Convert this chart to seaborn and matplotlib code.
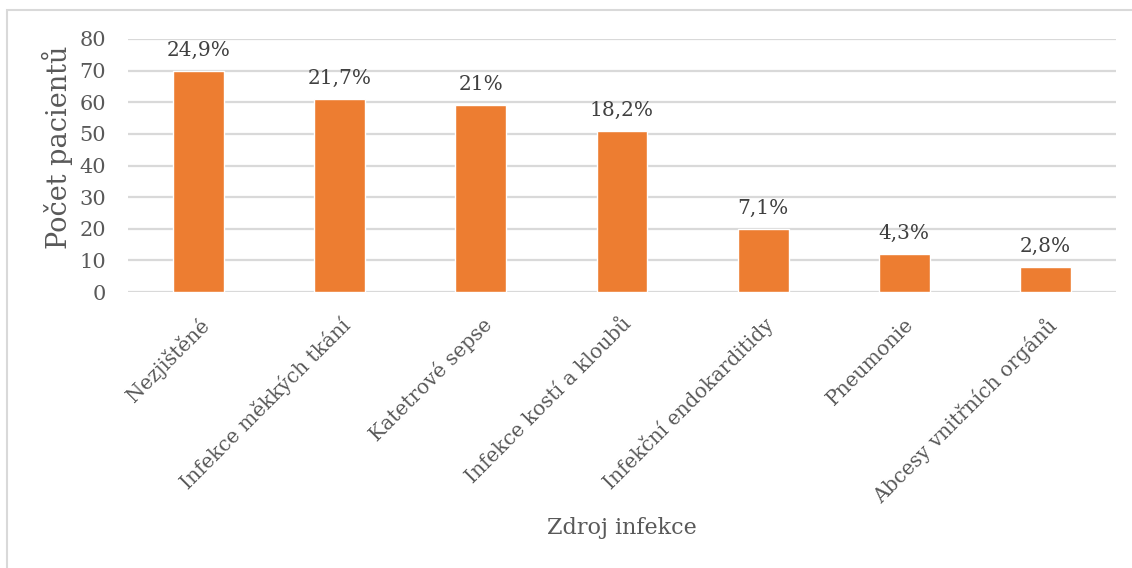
import matplotlib
matplotlib.use("Agg")
import matplotlib.pyplot as plt
from matplotlib.patches import Rectangle
import seaborn as sns
import pandas as pd

categories = [
    "Nezjištěné",
    "Infekce měkkých tkání",
    "Katetrové sepse",
    "Infekce kostí a kloubů",
    "Infekční endokarditidy",
    "Pneumonie",
    "Abcesy vnitřních orgánů",
]
patients = [70, 61, 59, 51, 20, 12, 8]
share_labels = ["24,9%", "21,7%", "21%", "18,2%", "7,1%", "4,3%", "2,8%"]
y_ticks = [0, 10, 20, 30, 40, 50, 60, 70, 80]

df = pd.DataFrame({"zdroj": categories, "pocet": patients})

sns.set_theme(style="white")
plt.rcParams["font.family"] = ["DejaVu Serif"]

TEXT = "#595959"
GRID = "#D9D9D9"
BAR = "#ED7D31"

W, H = 1132, 568
fig = plt.figure(figsize=(W / 100, H / 100), dpi=100)
ax = fig.add_axes([128 / W, 1 - 292 / H, (1116 - 128) / W, (292 - 39) / H])

sns.barplot(data=df, x="zdroj", y="pocet", color=BAR, width=0.36,
            saturation=1, ax=ax, zorder=3)

ax.set_ylim(0, 80)
ax.set_xlim(-0.5, len(categories) - 0.5)
ax.set_yticks(y_ticks)
for t in y_ticks:
    ax.axhline(t, color=GRID, lw=1.6, zorder=1)
for s in ax.spines.values():
    s.set_visible(False)

ax.tick_params(axis="y", length=0, labelsize=15, labelcolor=TEXT, pad=16)
ax.tick_params(axis="x", length=0, labelsize=14.5, labelcolor=TEXT, pad=16)
ax.set_xticks(range(len(categories)))
ax.set_xticklabels(categories, rotation=45, ha="right", rotation_mode="anchor")

for i, (v, lab) in enumerate(zip(patients, share_labels)):
    ax.annotate(lab, (i, v), xytext=(0, 8), textcoords="offset points",
                ha="center", va="bottom", fontsize=14.5, color="#404040")

ax.set_ylabel("Počet pacientů", fontsize=19.5, color=TEXT)
ax.yaxis.set_label_coords(-0.056, 0.57)
ax.set_xlabel("Zdroj infekce", fontsize=16, color=TEXT)
ax.xaxis.set_label_coords(0.4995, -0.89)

# chart frame
fig.patches.append(Rectangle((7 / W, -0.1), 1.2, 1 - 10 / H + 0.1,
                             transform=fig.transFigure, fill=False,
                             edgecolor="#D9D9D9", lw=1.5, zorder=0))

fig.savefig("out.png", dpi=100, facecolor="white")
